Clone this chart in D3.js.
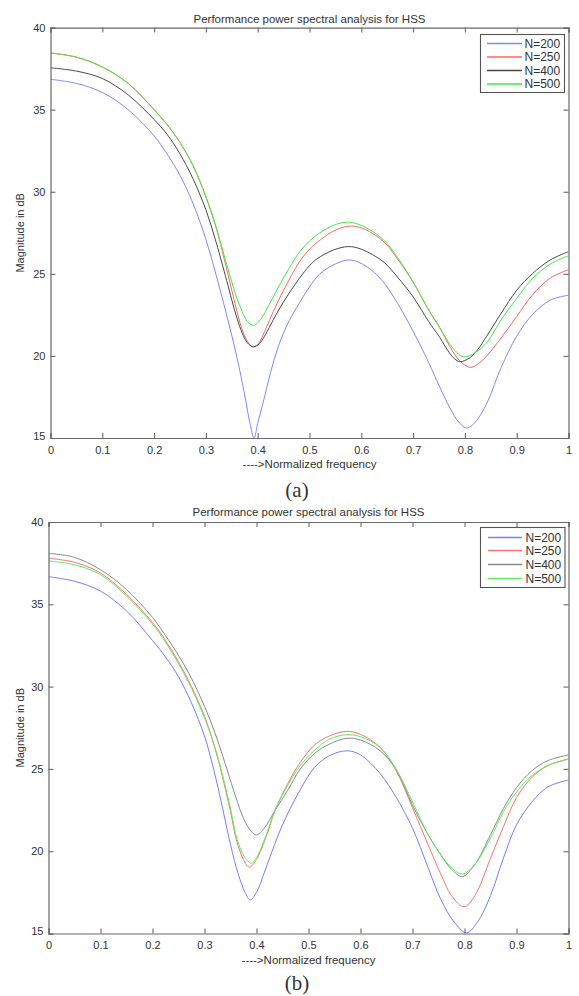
<!DOCTYPE html>
<html><head><meta charset="utf-8">
<script src="https://cdn.jsdelivr.net/npm/d3@7"></script>
<style>
html,body{margin:0;padding:0;background:#fff;}
svg{display:block;}
text{font-family:"Liberation Sans",Arial,Helvetica,sans-serif;fill:#333;}
</style></head>
<body>
<svg id="chart" width="579" height="996"></svg>
<script>
// ---------- DATA ----------
const titleText = "Performance power spectral analysis for HSS";
const xLabelText = "---->Normalized frequency";
const yLabelText = "Magnitude in dB";
const seriesNames = ["N=200", "N=250", "N=400", "N=500"];
const xTicks = [0, 0.1, 0.2, 0.3, 0.4, 0.5, 0.6, 0.7, 0.8, 0.9, 1];
const yTicks = [15, 20, 25, 30, 35, 40];
const panelCaptions = ["(a)", "(b)"];

// Panel (a)
const fA200 = [0,0.05,0.10,0.15,0.20,0.225,0.25,0.275,0.30,0.32,0.34,0.36,0.375,0.385,0.393,0.40,0.41,0.425,0.44,0.46,0.48,0.50,0.52,0.55,0.578,0.61,0.64,0.67,0.70,0.73,0.75,0.775,0.79,0.803,0.815,0.83,0.845,0.87,0.90,0.93,0.965,1.0];
const vA200 = [36.85,36.6,36.05,35.0,33.4,32.3,31.0,29.3,27.1,24.9,22.5,19.9,17.6,15.9,15.0,15.9,17.1,19.0,20.6,22.1,23.2,24.2,25.0,25.6,25.85,25.45,24.6,23.2,21.5,19.6,18.2,16.6,15.9,15.6,15.8,16.4,17.3,19.3,21.2,22.5,23.4,23.7];
const fA250 = [0,0.05,0.10,0.15,0.20,0.225,0.25,0.275,0.30,0.32,0.34,0.35,0.36,0.37,0.38,0.39,0.40,0.415,0.43,0.45,0.48,0.50,0.514,0.546,0.575,0.60,0.642,0.67,0.70,0.73,0.75,0.776,0.79,0.81,0.825,0.842,0.87,0.90,0.93,0.965,1.0];
const vA250 = [38.45,38.2,37.6,36.6,35.0,34.1,33.0,31.6,29.7,27.8,25.3,24.0,22.7,21.6,20.9,20.56,20.7,21.6,22.7,24.0,25.7,26.5,26.9,27.6,27.9,27.8,27.0,25.9,24.5,22.8,21.8,20.3,19.7,19.3,19.5,20.0,21.1,22.4,23.7,24.75,25.25];
const fA400 = [0,0.05,0.10,0.15,0.20,0.225,0.25,0.275,0.30,0.32,0.34,0.35,0.36,0.37,0.38,0.39,0.40,0.415,0.43,0.45,0.48,0.50,0.514,0.546,0.575,0.60,0.642,0.67,0.70,0.73,0.75,0.776,0.79,0.81,0.825,0.842,0.87,0.90,0.93,0.965,1.0];
const vA400 = [37.55,37.35,36.9,35.9,34.4,33.5,32.3,30.8,28.9,26.9,24.6,23.4,22.3,21.4,20.8,20.56,20.65,21.3,22.2,23.3,24.7,25.5,25.9,26.45,26.66,26.5,25.75,24.8,23.6,22.1,21.2,19.95,19.65,19.9,20.4,21.2,22.6,24.0,25.0,25.85,26.35];
const fA500 = [0,0.05,0.10,0.15,0.20,0.225,0.25,0.275,0.30,0.32,0.34,0.35,0.36,0.37,0.38,0.392,0.405,0.42,0.44,0.46,0.48,0.50,0.52,0.546,0.573,0.60,0.642,0.67,0.70,0.73,0.75,0.776,0.797,0.82,0.842,0.87,0.90,0.93,0.965,1.0];
const vA500 = [38.45,38.2,37.6,36.6,35.0,34.1,33.0,31.6,29.7,27.8,25.6,24.5,23.5,22.7,22.1,21.86,22.2,23.0,24.2,25.3,26.3,27.0,27.5,27.95,28.15,27.95,27.1,26.0,24.5,22.8,21.8,20.5,19.95,20.2,20.8,22.2,23.5,24.7,25.6,26.1];

// Panel (b)
const fB200 = [0,0.05,0.10,0.15,0.20,0.225,0.25,0.275,0.30,0.315,0.33,0.35,0.365,0.378,0.388,0.40,0.415,0.43,0.45,0.48,0.512,0.54,0.574,0.60,0.638,0.67,0.70,0.73,0.754,0.78,0.804,0.825,0.85,0.875,0.90,0.93,0.96,1.0];
const vB200 = [36.68,36.4,35.8,34.6,32.8,31.8,30.6,29.0,27.0,25.3,23.3,20.4,18.6,17.5,17.04,17.5,18.7,20.0,21.6,23.5,25.1,25.8,26.1,25.85,24.7,23.2,21.4,19.0,17.1,15.7,15.04,15.7,17.3,19.6,21.6,23.0,23.9,24.33];
const fB250 = [0,0.05,0.10,0.15,0.20,0.225,0.25,0.275,0.30,0.315,0.33,0.35,0.362,0.375,0.386,0.40,0.42,0.436,0.46,0.484,0.512,0.54,0.574,0.60,0.638,0.67,0.70,0.73,0.754,0.775,0.799,0.82,0.85,0.875,0.90,0.93,0.96,1.0];
const vB250 = [37.8,37.55,36.9,35.6,33.9,32.8,31.5,30.0,28.2,26.8,25.1,22.4,20.6,19.5,19.03,19.5,21.0,22.5,24.1,25.39,26.46,27.0,27.28,27.1,26.3,24.8,22.64,20.4,18.64,17.3,16.62,17.3,19.57,21.5,23.25,24.5,25.2,25.6];
const fB400 = [0,0.05,0.10,0.15,0.20,0.225,0.25,0.275,0.30,0.32,0.343,0.36,0.375,0.39,0.40,0.415,0.436,0.46,0.484,0.512,0.54,0.574,0.60,0.638,0.67,0.70,0.73,0.754,0.775,0.796,0.82,0.85,0.875,0.90,0.93,0.96,1.0];
const vB400 = [38.1,37.85,37.1,35.9,34.2,33.1,31.9,30.5,28.8,27.2,25.0,23.3,22.0,21.2,20.99,21.4,22.5,23.7,24.98,25.95,26.5,26.86,26.75,26.1,24.9,22.8,21.0,19.8,18.9,18.46,19.2,21.0,22.6,23.86,24.9,25.5,25.85];
const fB500 = [0,0.05,0.10,0.15,0.20,0.225,0.25,0.275,0.30,0.315,0.33,0.35,0.362,0.376,0.39,0.40,0.42,0.436,0.46,0.484,0.512,0.54,0.574,0.60,0.638,0.67,0.70,0.73,0.754,0.775,0.796,0.82,0.85,0.875,0.90,0.93,0.96,1.0];
const vB500 = [37.63,37.4,36.8,35.5,33.8,32.7,31.4,29.9,28.1,26.8,25.2,22.6,20.8,19.7,19.27,19.6,21.1,22.5,24.0,25.2,26.15,26.8,27.08,26.95,26.3,24.9,23.0,21.0,19.8,19.0,18.62,19.2,20.8,22.4,23.6,24.6,25.2,25.6];

// ---------- DRAW ----------
const svg = d3.select("#chart");

function zip(f, v) { return f.map((x, i) => ({ f: x, v: v[i] })); }

const panels = [
  {
    caption: panelCaptions[0],
    left: 50.5, right: 568.5, top: 27.6, bottom: 438,
    titleY: 23, xLabY: 468, capY: 497,
    legend: { x: 480.5, y: 34.5, w: 84, h: 58, rows: [43.5, 57, 70.5, 84], lx1: 487, lx2: 522, tx: 524.5 },
    colors: ["#8585ff", "#ff6464", "#4a4a4a", "#44e844"],
    series: [zip(fA200, vA200), zip(fA250, vA250), zip(fA400, vA400), zip(fA500, vA500)]
  },
  {
    caption: panelCaptions[1],
    left: 48.5, right: 568.5, top: 522, bottom: 933.5,
    titleY: 515.5, xLabY: 964, capY: 990,
    legend: { x: 480.5, y: 527.5, w: 84.5, h: 60, rows: [537.5, 550.5, 564.5, 578.5], lx1: 488, lx2: 522, tx: 525.5 },
    colors: ["#7b7bff", "#ff7070", "#8a8a8a", "#5ced5c"],
    series: [zip(fB200, vB200), zip(fB250, vB250), zip(fB400, vB400), zip(fB500, vB500)]
  }
];

panels.forEach(p => {
  const x = d3.scaleLinear().domain([0, 1]).range([p.left, p.right]);
  const y = d3.scaleLinear().domain([15, 40]).range([p.bottom, p.top]);
  const g = svg.append("g");

  // title
  g.append("text").attr("x", (p.left + p.right) / 2).attr("y", p.titleY)
    .attr("text-anchor", "middle").style("font-size", "11.5px").text(titleText);

  // curves
  const line = d3.line().x(d => x(d.f)).y(d => y(d.v)).curve(d3.curveCatmullRom.alpha(0.5));
  const clipId = "clip" + p.caption.replace(/\W/g, "");
  svg.append("clipPath").attr("id", clipId).append("rect")
    .attr("x", p.left).attr("y", p.top - 1).attr("width", p.right - p.left).attr("height", p.bottom - p.top + 1.5);
  p.series.forEach((s, i) => {
    g.append("path").datum(s).attr("d", line).attr("fill", "none")
      .attr("stroke", p.colors[i]).attr("stroke-width", 1.0)
      .attr("clip-path", `url(#${clipId})`);
  });

  // axes (ticks inward) on four sides
  const frame = "#6a6a6a";
  const axB = d3.axisBottom(x).tickValues(xTicks).tickSize(-5).tickPadding(8).tickFormat(d3.format("~g"));
  const axT = d3.axisTop(x).tickValues(xTicks).tickSize(-5).tickFormat("");
  const axL = d3.axisLeft(y).tickValues(yTicks).tickSize(-5).tickPadding(5).tickFormat(d3.format("d"));
  const axR = d3.axisRight(y).tickValues(yTicks).tickSize(-5).tickFormat("");
  const gb = g.append("g").attr("transform", `translate(0,${p.bottom})`).call(axB);
  const gt = g.append("g").attr("transform", `translate(0,${p.top})`).call(axT);
  const gl = g.append("g").attr("transform", `translate(${p.left},0)`).call(axL);
  const gr = g.append("g").attr("transform", `translate(${p.right},0)`).call(axR);
  [gb, gt, gl, gr].forEach(a => {
    a.select(".domain").attr("stroke", frame).attr("stroke-width", 1.2);
    a.selectAll(".tick line").attr("stroke", frame).attr("stroke-width", 1.1);
    a.selectAll("text").style("font-size", "11px").attr("fill", "#333")
      .style("font-family", '"Liberation Sans",Arial,sans-serif');
  });
  gl.selectAll(".tick").filter(d => d === 15).select("text").attr("dy", "0.1em");

  // axis labels
  g.append("text").attr("x", (p.left + p.right) / 2).attr("y", p.xLabY)
    .attr("text-anchor", "middle").style("font-size", "11.5px").text(xLabelText);
  g.append("text").attr("transform", `translate(24,${(p.top + p.bottom) / 2}) rotate(-90)`)
    .attr("text-anchor", "middle").style("font-size", "11px").text(yLabelText);

  // legend
  const L = p.legend;
  g.append("rect").attr("x", L.x).attr("y", L.y).attr("width", L.w).attr("height", L.h)
    .attr("fill", "#fff").attr("stroke", "#555").attr("stroke-width", 1.1);
  seriesNames.forEach((n, i) => {
    g.append("line").attr("x1", L.lx1).attr("x2", L.lx2).attr("y1", L.rows[i]).attr("y2", L.rows[i])
      .attr("stroke", p.colors[i]).attr("stroke-width", 1.3);
    g.append("text").attr("x", L.tx).attr("y", L.rows[i]).attr("dy", "0.36em")
      .style("font-size", "12px").text(n);
  });

  // caption
  g.append("text").attr("x", 297).attr("y", p.capY).attr("text-anchor", "middle")
    .style("font-family", '"Liberation Serif","Times New Roman",serif').style("font-size", "21px")
    .attr("fill", "#000").text(p.caption);
});
</script>
</body></html>
